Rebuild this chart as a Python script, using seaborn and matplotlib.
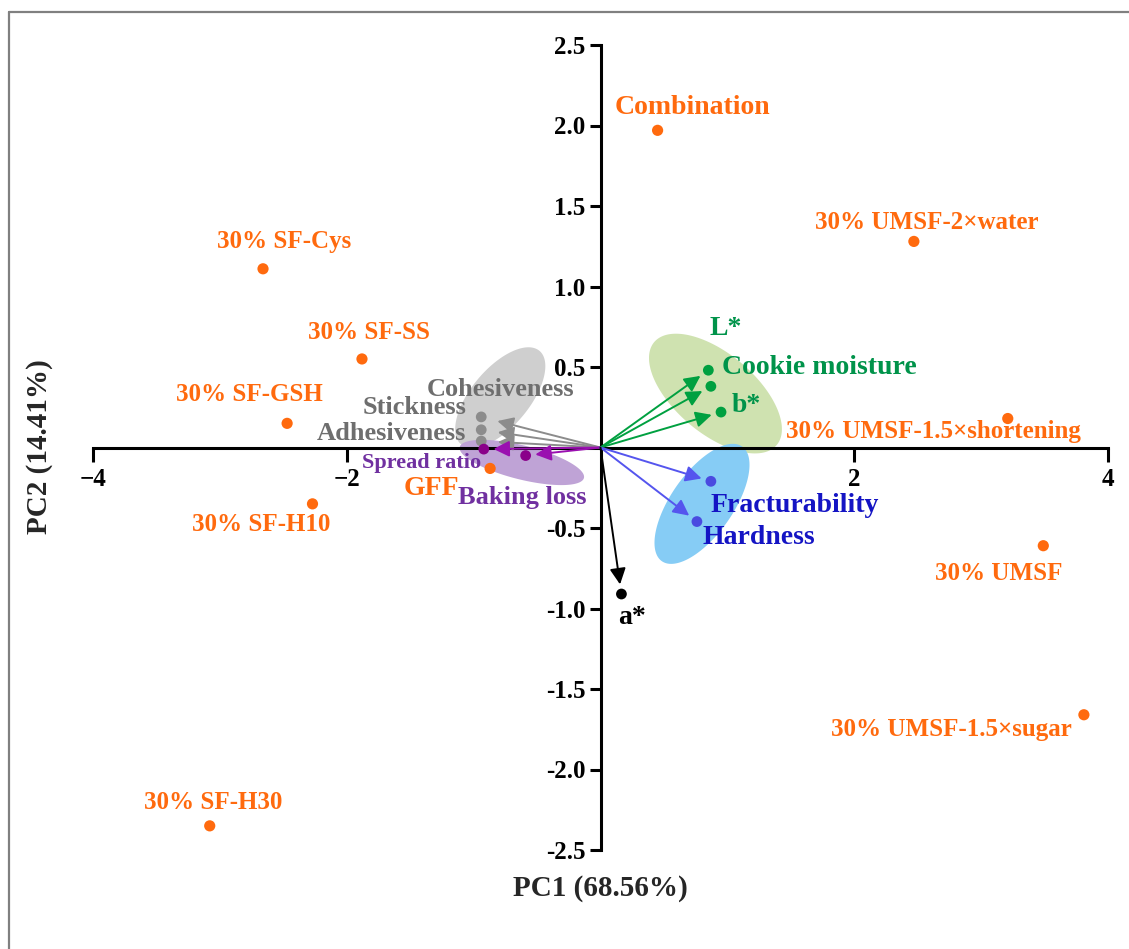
import numpy as np
import pandas as pd
import matplotlib
matplotlib.use("Agg")
import matplotlib.pyplot as plt
from matplotlib.lines import Line2D
import seaborn as sns

# ---------------- data ----------------
sample_names = ["Combination", "30% UMSF-2×water", "30% SF-Cys", "30% SF-SS",
                "30% SF-GSH", "30% UMSF-1.5×shortening", "30% SF-H10", "GFF",
                "30% UMSF", "30% UMSF-1.5×sugar", "30% SF-H30"]
sample_pc1 = [0.45, 2.47, -2.66, -1.88, -2.47, 3.21, -2.27, -0.87, 3.49, 3.81, -3.08]
sample_pc2 = [1.97, 1.28, 1.11, 0.55, 0.15, 0.18, -0.35, -0.13, -0.61, -1.66, -2.35]
# label offsets (pixels) relative to each point
sample_label_dx = [35, 13, 21, 7, -38, -74, -51, -59, -45, -133, 3]
sample_label_dy = [23, 19, 27, 26, 29, -13, -21, -20, -28, -15, 23]

var_names = ["Cohesiveness", "Stickness", "Adhesiveness",
             "Spread ratio", "Baking loss",
             "L*", "Cookie moisture", "b*",
             "Fracturability", "Hardness", "a*"]
var_group = ["texture", "texture", "texture",
             "spread", "spread",
             "colour", "colour", "colour",
             "hard", "hard", "red"]
var_pc1 = [-0.94, -0.94, -0.94, -0.92, -0.59, 0.85, 0.87, 0.95, 0.87, 0.76, 0.165]
var_pc2 = [0.19, 0.11, 0.04, -0.01, -0.05, 0.48, 0.38, 0.22, -0.21, -0.46, -0.91]
var_label_dx = [19, -67, -90, -62, -3, 17, 108, 25, 84, 62, 11]
var_label_dy = [27, 22, 8, -14, -42, 42, 19, 7, -24, -16, -23]

# group ellipses: centre (data), semi-axes (px), angle (deg)
ell_group = ["texture", "spread", "colour", "hard"]
ell_cx = [-0.79, -0.62, 0.906, 0.80]
ell_cy = [0.31, -0.093, 0.335, -0.35]
ell_a = [61, 64, 80, 70]
ell_b = [29, 17, 40, 31]
ell_ang = [50, -14, -40, 55]

x_ticks = [-4, -2, 2, 4]
y_ticks = [-2.5, -2.0, -1.5, -1.0, -0.5, 0.5, 1.0, 1.5, 2.0, 2.5]

# ---------------- style ----------------
orange = "#FF6A0E"
arrow_col = {"texture": "#8C8C8C", "spread": "#9A10B0", "colour": "#00A040",
             "hard": "#5555EE", "red": "#000000"}
dot_col = {"texture": "#8C8C8C", "spread": "#8A008A", "colour": "#00A040",
           "hard": "#4A4AE0", "red": "#000000"}
text_col = {"texture": "#6E6E6E", "spread": "#7030A0", "colour": "#00934A",
            "hard": "#1414C4", "red": "#000000"}
ell_col = {"texture": "#CFCFCF", "spread": "#BFA3D6", "colour": "#CFE2B0",
           "hard": "#86CCF5"}
label_font = {"Combination": 20, "GFF": 20, "Spread ratio": 16, "Baking loss": 19,
              "Cohesiveness": 19, "Stickness": 19, "Adhesiveness": 19}
sample_font_default = 18
var_font_default = 20

sns.set_theme(style="white")
plt.rcParams["font.family"] = ["Liberation Serif", "DejaVu Serif"]
plt.rcParams["font.weight"] = "bold"
plt.rcParams["axes.unicode_minus"] = False

W, H = 1129, 949
fig = plt.figure(figsize=(W / 100, H / 100), dpi=100)
ax = fig.add_axes([93 / W, 99 / H, 1015 / W, 805 / H])
ax.set_xlim(-4, 4)
ax.set_ylim(-2.5, 2.5)
ax.set_facecolor("white")

sx = 1015 / 8.0
sy = 805 / 5.0

# ellipses
t = np.linspace(0, 2 * np.pi, 200)
for g, cx, cy, a, b, ang in zip(ell_group, ell_cx, ell_cy, ell_a, ell_b, ell_ang):
    th = np.deg2rad(ang)
    px = a * np.cos(t) * np.cos(th) - b * np.sin(t) * np.sin(th)
    py = a * np.cos(t) * np.sin(th) + b * np.sin(t) * np.cos(th)
    ax.fill(cx + px / sx, cy + py / sy, color=ell_col[g], lw=0, zorder=1)

# spines
for s in ["top", "right"]:
    ax.spines[s].set_visible(False)
ax.spines["left"].set_position(("data", 0))
ax.spines["bottom"].set_position(("data", 0))
for s in ["left", "bottom"]:
    ax.spines[s].set_linewidth(2.2)
    ax.spines[s].set_color("black")
    ax.spines[s].set_zorder(2)

ax.set_xticks(x_ticks)
ax.set_xticklabels(["\u2212%d" % abs(v) if v < 0 else "%d" % v for v in x_ticks])
ax.set_yticks(y_ticks)
ax.set_yticklabels(["%.1f" % v for v in y_ticks])
ax.tick_params(axis="x", direction="out", length=10, width=2.2, pad=5,
               labelsize=18, bottom=True, colors="black")
ax.tick_params(axis="y", direction="out", length=8, width=2.2, pad=3,
               labelsize=18, left=True, colors="black")
for lab in ax.get_xticklabels() + ax.get_yticklabels():
    lab.set_fontweight("bold")

# arrows
for n, g, x, y in zip(var_names, var_group, var_pc1, var_pc2):
    shrink = 12 if g == "texture" else 7
    ax.annotate("", xy=(x, y), xytext=(0, 0),
                arrowprops=dict(arrowstyle="-|>,head_length=0.6,head_width=0.3",
                                color=arrow_col[g], lw=1.4, mutation_scale=16,
                                shrinkA=0, shrinkB=shrink),
                zorder=3)

# variable points
df_var = pd.DataFrame({"PC1": var_pc1, "PC2": var_pc2, "group": var_group})
sns.scatterplot(data=df_var, x="PC1", y="PC2", hue="group", palette=dot_col,
                s=60, edgecolor="none", legend=False, ax=ax, zorder=4)

# sample points
df_s = pd.DataFrame({"PC1": sample_pc1, "PC2": sample_pc2})
sns.scatterplot(data=df_s, x="PC1", y="PC2", color=orange, s=65,
                edgecolor="none", legend=False, ax=ax, zorder=5)

ax.set_xlabel("")
ax.set_ylabel("")

for n, x, y, dx, dy in zip(sample_names, sample_pc1, sample_pc2,
                           sample_label_dx, sample_label_dy):
    ax.annotate(n, xy=(x, y), xytext=(dx, dy), textcoords="offset pixels",
                ha="center", va="center", color=orange,
                fontsize=label_font.get(n, sample_font_default),
                fontweight="bold", zorder=6)

for n, g, x, y, dx, dy in zip(var_names, var_group, var_pc1, var_pc2,
                              var_label_dx, var_label_dy):
    ax.annotate(n, xy=(x, y), xytext=(dx, dy), textcoords="offset pixels",
                ha="center", va="center", color=text_col[g],
                fontsize=label_font.get(n, var_font_default),
                fontweight="bold", zorder=6)

fig.text(600 / W, 1 - 888 / H, "PC1 (68.56%)", ha="center", va="center",
         fontsize=21, fontweight="bold")
fig.text(40 / W, 1 - 447 / H, "PC2 (14.41%)", ha="center", va="center",
         rotation=90, fontsize=21, fontweight="bold")

# outer grey frame (left and top edges)
fig.add_artist(Line2D([9 / W, 9 / W], [0, 1 - 12 / H], transform=fig.transFigure,
                      color="#808080", lw=1.6))
fig.add_artist(Line2D([9 / W, 1], [1 - 12 / H, 1 - 12 / H], transform=fig.transFigure,
                      color="#808080", lw=1.6))

fig.savefig("out.png", dpi=100, facecolor="white")
